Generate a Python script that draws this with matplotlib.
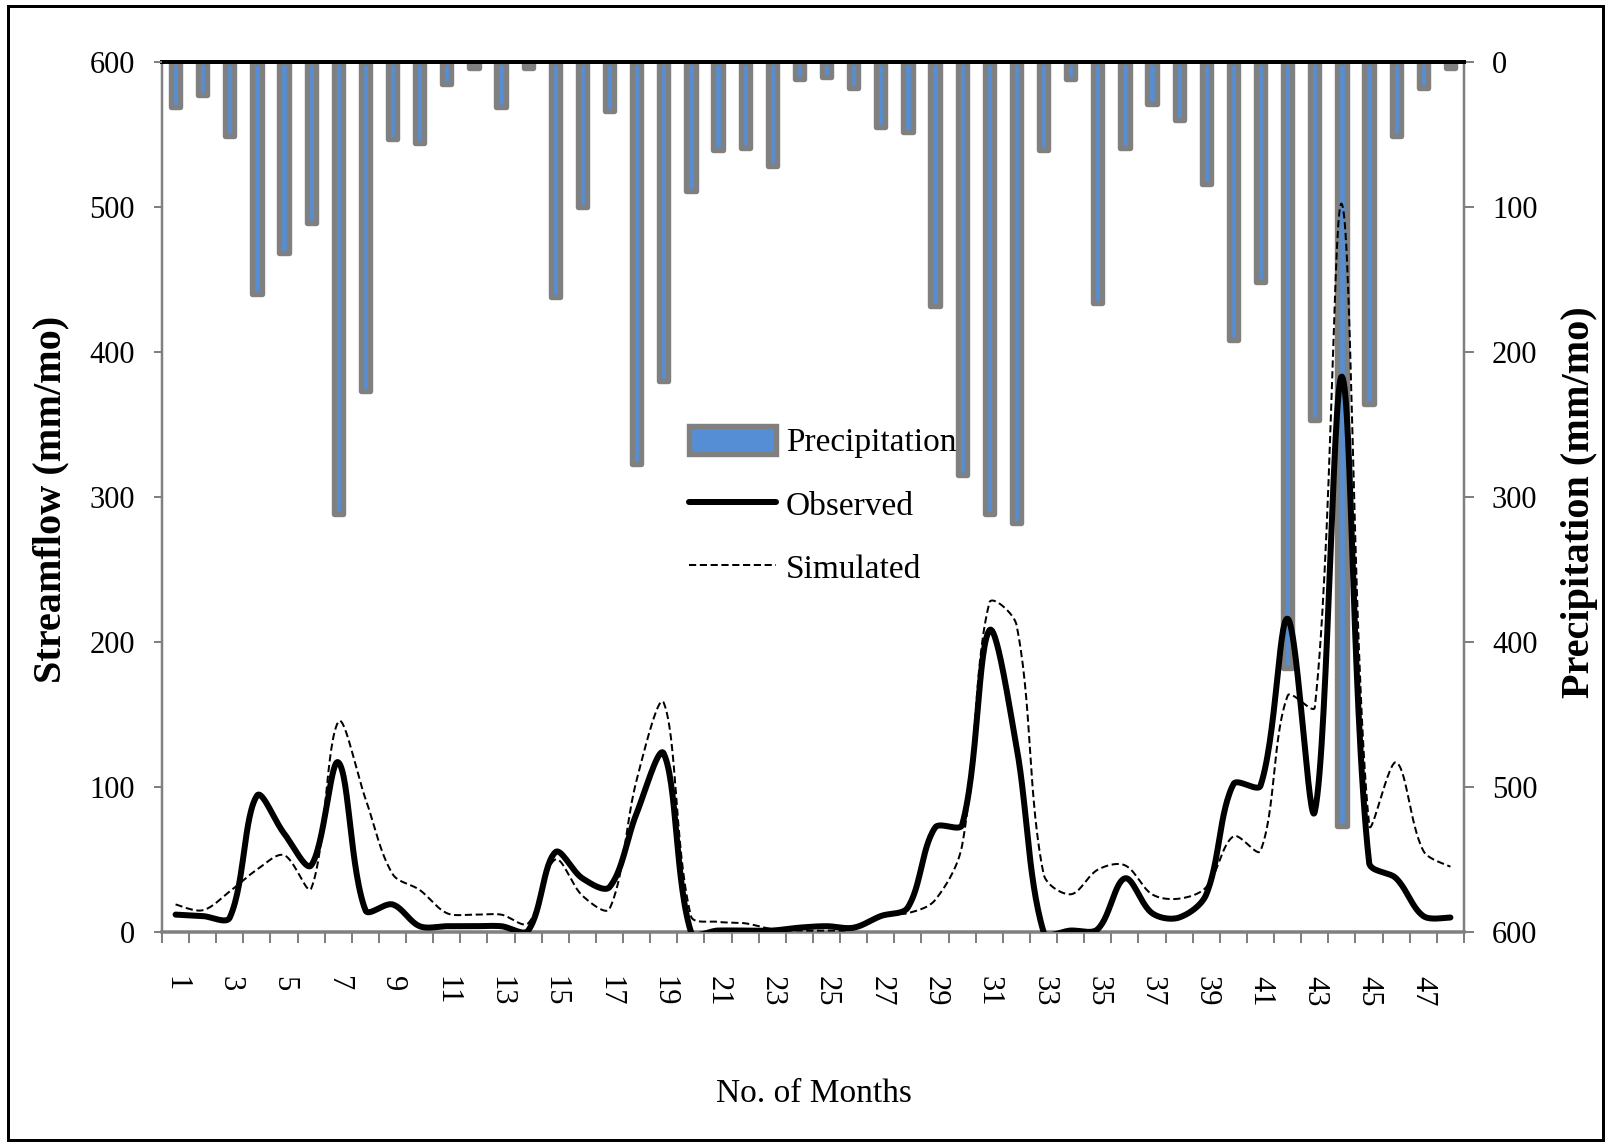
import numpy as np
import matplotlib
matplotlib.use('Agg')
import matplotlib.pyplot as plt
from matplotlib.patches import Rectangle

# ---------------- data ----------------
months = list(range(1, 49))
precipitation = [31, 23, 51, 160, 132, 111, 312, 227, 53, 56, 15, 4, 31, 4, 162, 100,
                 34, 277, 220, 89, 61, 59, 72, 12, 10, 18, 45, 48, 168, 285, 312, 318,
                 61, 12, 166, 59, 29, 40, 84, 192, 152, 418, 247, 527, 236, 51, 18, 4]
observed = [12, 11, 10, 94, 68, 46, 117, 15, 19, 4, 4, 4, 4, 1, 55, 37,
            31, 82, 123, 0, 1, 1, 1, 3, 4, 3, 11, 17, 72, 74, 208, 128,
            0, 1, 2, 37, 13, 10, 26, 102, 101, 216, 83, 383, 48, 37, 11, 10]
simulated = [19, 15, 28, 43, 53, 30, 145, 92, 40, 29, 13, 12, 12, 6, 50, 25,
             16, 105, 158, 11, 7, 6, 2, 1, 1, 2, 12, 13, 22, 60, 227, 212,
             40, 26, 43, 46, 26, 23, 31, 66, 56, 163, 155, 502, 74, 117, 56, 45]
x_tick_labels = [str(m) for m in range(1, 48, 2)]
streamflow_ticks = [0, 100, 200, 300, 400, 500, 600]
precip_ticks = [0, 100, 200, 300, 400, 500, 600]

plt.rcParams['font.family'] = ['Liberation Serif', 'DejaVu Serif']

GRAY = '#808080'
BLUE = '#558ed5'
PX = 72 / 100.0  # points per pixel at dpi 100

W, H = 1606.0, 1143.0
L, R, T, B = 162, 1464, 62, 932
XPX = (R - L) / 48.0      # pixels per month
YPX = (B - T) / 600.0     # pixels per streamflow unit


def smooth(xs, ys, n=30, k=1.0 / 3.0):
    """Excel-like smoothed line: Bezier segments whose control points are
    scaled by the neighbouring segment lengths (computed in screen space)."""
    X = np.asarray(xs, float) * XPX
    Y = np.asarray(ys, float) * YPX
    P = np.column_stack([X, Y])
    m = len(P)
    cin = np.zeros_like(P)
    cout = np.zeros_like(P)
    for i in range(m):
        if i == 0:
            cout[i] = P[0] + (P[1] - P[0]) / 6.0
            continue
        if i == m - 1:
            cin[i] = P[i] - (P[i] - P[i - 1]) / 6.0
            continue
        d = P[i + 1] - P[i - 1]
        l0 = np.hypot(*(P[i] - P[i - 1]))
        l1 = np.hypot(*(P[i + 1] - P[i]))
        s = l0 + l1
        cout[i] = P[i] + d * k * l1 / s
        cin[i] = P[i] - d * k * l0 / s
    t = np.linspace(0, 1, n, endpoint=False)[:, None]
    segs = []
    for i in range(m - 1):
        p1, c1, c2, p2 = P[i], cout[i], cin[i + 1], P[i + 1]
        segs.append(((1 - t) ** 3) * p1 + 3 * ((1 - t) ** 2) * t * c1
                    + 3 * (1 - t) * t ** 2 * c2 + t ** 3 * p2)
    segs.append(P[-1][None, :])
    out = np.vstack(segs)
    return out[:, 0] / XPX, out[:, 1] / YPX


fig = plt.figure(figsize=(16.06, 11.43), dpi=100)
ax = fig.add_axes([L / W, 1 - B / H, (R - L) / W, (B - T) / H])
ax2 = ax.twinx()

# bars (precipitation, hanging from the top, right axis)
bars = ax.bar(months, precipitation, width=0.34, color=BLUE, edgecolor=GRAY,
              linewidth=5.4 * PX, joinstyle='round', label='Precipitation', zorder=2)
ax.set_xlim(0.5, 48.5)
ax.set_ylim(600, 0)

# lines (streamflow, left axis)
sx, sy = smooth(months, observed)
obs_line, = ax2.plot(sx, sy, color='black', linewidth=6 * PX, solid_capstyle='round',
                     solid_joinstyle='round', label='Observed')
tx, ty = smooth(months, simulated)
sim_line, = ax2.plot(tx, ty, color='black', linewidth=2 * PX, dashes=(3.6, 1.8),
                     label='Simulated')
ax2.set_ylim(0, 600)

# y axes
ax.set_yticks(precip_ticks)
ax.set_yticklabels([str(v) for v in precip_ticks])
ax.yaxis.tick_right()
ax.tick_params(axis='y', which='major', right=True, left=False, labelright=True,
               labelleft=False, direction='out', length=10 * PX, width=2 * PX,
               color=GRAY, pad=18 * PX, labelsize=22)

ax2.set_yticks(streamflow_ticks)
ax2.set_yticklabels([str(v) for v in streamflow_ticks])
ax2.yaxis.tick_left()
ax2.tick_params(axis='y', which='major', left=True, right=False, labelleft=True,
                labelright=False, direction='out', length=8 * PX, width=2 * PX,
                color=GRAY, pad=19 * PX, labelsize=22)

# x axis: ticks between categories, labels every other month
ax.set_xticks(np.arange(0.5, 49, 1.0))
ax.set_xticklabels([])
ax.tick_params(axis='x', which='major', direction='out', length=11 * PX,
               width=2 * PX, color=GRAY)
ax.set_xticks(list(range(1, 48, 2)), labels=x_tick_labels, minor=True)
ax.tick_params(axis='x', which='minor', length=0, pad=44 * PX, labelsize=22,
               labelrotation=-90)

# spines
for a in (ax, ax2):
    for s in a.spines.values():
        s.set_visible(False)
ax.spines['left'].set_visible(True)
ax.spines['left'].set_color(GRAY)
ax.spines['left'].set_linewidth(2.5 * PX)
ax.spines['right'].set_visible(True)
ax.spines['right'].set_color(GRAY)
ax.spines['right'].set_linewidth(2.5 * PX)
ax.spines['bottom'].set_visible(True)
ax.spines['bottom'].set_color(GRAY)
ax.spines['bottom'].set_linewidth(3.5 * PX)
ax.spines['top'].set_visible(True)
ax.spines['top'].set_color('black')
ax.spines['top'].set_linewidth(4 * PX)
ax.spines['top'].set_zorder(5)

# axis titles
fig.text(51 / W, 1 - 499 / H, 'Streamflow (mm/mo)', rotation=90, ha='center',
         va='center', fontsize=29, fontweight='bold')
fig.text(1580 / W, 1 - 502 / H, 'Precipitation (mm/mo)', rotation=90, ha='center',
         va='center', fontsize=29, fontweight='bold')
fig.text(814 / W, 1 - 1094 / H, 'No. of Months', ha='center', va='center', fontsize=24)

# legend
fig.legend([bars.patches[0], obs_line, sim_line], ['Precipitation', 'Observed', 'Simulated'],
           loc='upper left', bbox_to_anchor=(689 / W, 1 - 426 / H), frameon=False,
           borderpad=0, borderaxespad=0, fontsize=24, handlelength=2.6,
           handleheight=0.9, handletextpad=0.3, labelspacing=0.93)

# figure border
fig.patches.append(Rectangle((8 / W, 3 / H), 1595 / W, 1134 / H, fill=False,
                             edgecolor='black', linewidth=3 * PX,
                             transform=fig.transFigure, figure=fig))

fig.savefig('out.png', dpi=100)
